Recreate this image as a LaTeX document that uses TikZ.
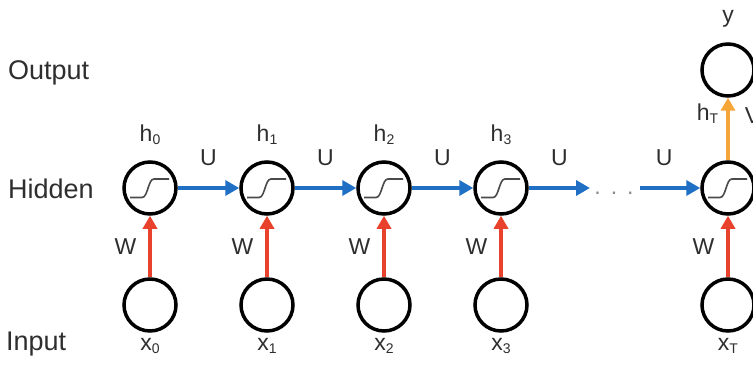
\documentclass[tikz,border=0pt]{standalone}
\usepackage{fontspec}
\setmainfont{Liberation Sans}
\usepackage{tikz}
\usetikzlibrary{arrows.meta, positioning}
\definecolor{labgray}{HTML}{2E2E2E}
\definecolor{dotgray}{HTML}{8A8A8A}
\definecolor{siggray}{HTML}{4A4A4A}
\definecolor{ublue}{HTML}{1F6FC5}
\definecolor{wred}{HTML}{E8412C}
\definecolor{vorange}{HTML}{F6A537}
\newcommand{\tsub}[1]{\raisebox{-3pt}{\fontsize{14}{14}\selectfont #1}}
\tikzset{
    unit/.style={
        circle, draw=black, line width=3.5pt,
        minimum size=52pt, inner sep=0pt
    },
    hidunit/.style={
        unit,
        path picture={
            \draw[siggray, line width=1.6pt, shift={(path picture bounding box.center)}]
                (-20,-9.5) -- (-8,-9.5) .. controls (-2,-9.5) and (-2,9) .. (4,9) -- (19,9);
        }
    },
    lab/.style={
        font=\fontsize{23}{26}\selectfont, text=labgray, inner sep=2pt
    },
    rowlab/.style={
        font=\fontsize{27}{30}\selectfont, text=labgray, inner sep=0pt, anchor=base west
    },
    uarrow/.style={
        -{Triangle[length=14pt, width=15pt]}, line width=4pt, color=ublue
    },
    warrow/.style={
        -{Triangle[length=13pt, width=14pt]}, line width=3.5pt, color=wred
    },
    varrow/.style={
        -{Triangle[length=13pt, width=14pt]}, line width=3.5pt, color=vorange
    },
}

\begin{document}
\begin{tikzpicture}[x=1pt, y=1pt, node distance=61.5pt]

    \clip (0,0) rectangle (753,373);

    % Hidden layer
    \node[hidunit] at (150,185) (h0) {};
    \node[hidunit, right=of h0] (h1) {};
    \node[hidunit, right=of h1] (h2) {};
    \node[hidunit, right=of h2] (h3) {};
    \node[hidunit, right=171.5pt of h3] (hT) {};

    % Input layer
    \node[unit, below=of h0] (x0) {};
    \node[unit, below=of h1] (x1) {};
    \node[unit, below=of h2] (x2) {};
    \node[unit, below=of h3] (x3) {};
    \node[unit, below=of hT] (xT) {};

    % Output
    \node[unit, above=62.5pt of hT] (y) {};

    % Row names
    \node[rowlab] (outlab) at (8,293) {Output};
    \node[rowlab] (hidlab) at (8,175) {Hidden};
    \node[rowlab] (inlab) at (6,23) {Input};

    % State and input labels
    \node[lab, above=19.25pt of h0, anchor=base] (lh0) {h\tsub{0}};
    \node[lab, above=19.25pt of h1, anchor=base] (lh1) {h\tsub{1}};
    \node[lab, above=19.25pt of h2, anchor=base] (lh2) {h\tsub{2}};
    \node[lab, above=19.25pt of h3, anchor=base] (lh3) {h\tsub{3}};
    \node[lab, above=19.25pt of y, anchor=base] (ly) {y};
    \node[lab, below=17.25pt of x0, anchor=base] (lx0) {x\tsub{0}};
    \node[lab, below=17.25pt of x1, anchor=base] (lx1) {x\tsub{1}};
    \node[lab, below=17.25pt of x2, anchor=base] (lx2) {x\tsub{2}};
    \node[lab, below=17.25pt of x3, anchor=base] (lx3) {x\tsub{3}};
    \node[lab, below=17.25pt of xT, anchor=base] (lxT) {x\tsub{T}};

    % Gap in the chain
    \coordinate (gapL) at (590,185);
    \coordinate (gapR) at (640,185);
    \node[lab, inner sep=0pt, text=dotgray] (dots) at (614,180) {.\hspace{10pt}.\hspace{10pt}.};

    % Recurrent weights
    \draw[uarrow] (h0) -- (h1) node[lab, midway, above=18pt] {U};
    \draw[uarrow] (h1) -- (h2) node[lab, midway, above=18pt] {U};
    \draw[uarrow] (h2) -- (h3) node[lab, midway, above=18pt] {U};
    \draw[uarrow] (h3) -- (gapL) node[lab, midway, above=18pt] {U};
    \draw[uarrow] (gapR) -- (hT) node[lab, pos=0.4, above=18pt] {U};

    % Input weights
    \draw[warrow] (x0) -- (h0) node[lab, midway, left=10pt] {W};
    \draw[warrow] (x1) -- (h1) node[lab, midway, left=10pt] {W};
    \draw[warrow] (x2) -- (h2) node[lab, midway, left=10pt] {W};
    \draw[warrow] (x3) -- (h3) node[lab, midway, left=10pt] {W};
    \draw[warrow] (xT) -- (hT) node[lab, midway, left=10pt] {W};

    % Output weight
    \draw[varrow] (hT) -- (y) node[lab, pos=0.74, left=6pt] {h\tsub{T}} node[lab, pos=0.72, right=13pt] {V};

\end{tikzpicture}
\end{document}
